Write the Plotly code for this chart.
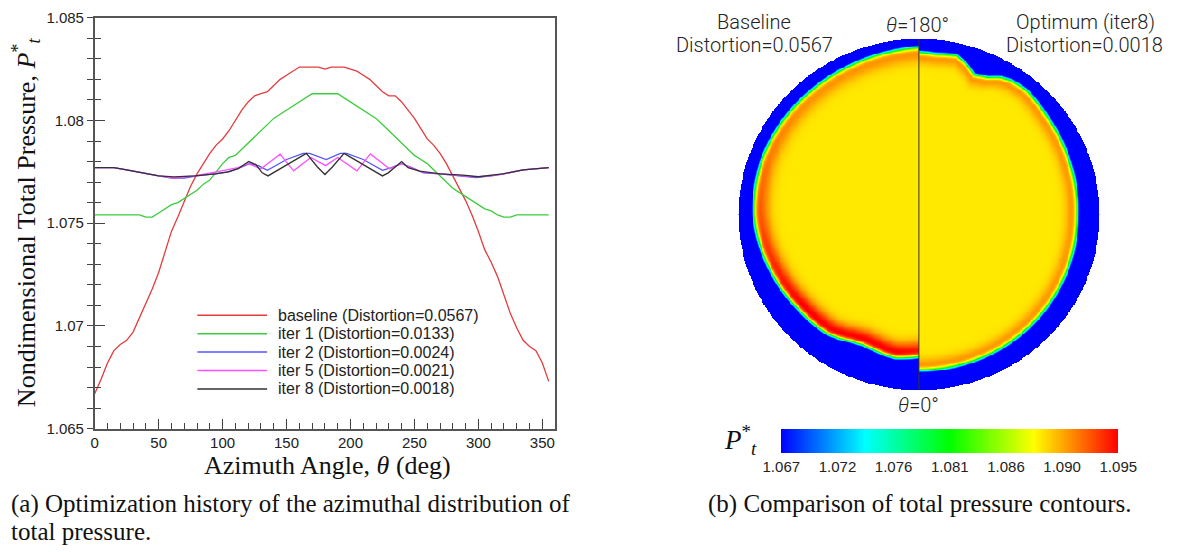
import numpy as np
import plotly.graph_objects as go

W, H = 1183, 552

# ---------------- azimuthal distribution data ----------------
theta = list(range(0, 360, 5))
baseline = [1.0667, 1.0674, 1.0682, 1.0688, 1.0691, 1.0693, 1.0697, 1.0704, 1.0711, 1.0718,
            1.0726, 1.0736, 1.0746, 1.0753, 1.0761, 1.0768, 1.0774, 1.0779, 1.0784, 1.0788,
            1.0791, 1.0795, 1.0800, 1.0805, 1.0809, 1.0812, 1.0813, 1.0814, 1.0817, 1.0820,
            1.0822, 1.0824, 1.0826, 1.0826, 1.0826, 1.0826, 1.0825, 1.0826, 1.0826, 1.0826,
            1.0825, 1.0824, 1.0822, 1.0820, 1.0817, 1.0814, 1.0812, 1.0812, 1.0809, 1.0805,
            1.0801, 1.0796, 1.0791, 1.0788, 1.0784, 1.0779, 1.0773, 1.0767, 1.0761, 1.0754,
            1.0746, 1.0737, 1.0731, 1.0724, 1.0715, 1.0706, 1.0699, 1.0693, 1.0690, 1.0688,
            1.0682, 1.0673]
iter1 = [1.0754, 1.0754, 1.0754, 1.0754, 1.0754, 1.0754, 1.0754, 1.0754, 1.0753, 1.0753,
         1.0755, 1.0757, 1.0759, 1.0760, 1.0762, 1.0764, 1.0766, 1.0769, 1.0771, 1.0775,
         1.0779, 1.0782, 1.0783, 1.0786, 1.0789, 1.0792, 1.0795, 1.0798, 1.0801, 1.0803,
         1.0805, 1.0807, 1.0809, 1.0811, 1.0813, 1.0813, 1.0813, 1.0813, 1.0813, 1.0811,
         1.0809, 1.0807, 1.0805, 1.0803, 1.0801, 1.0798, 1.0795, 1.0792, 1.0789, 1.0786,
         1.0783, 1.0781, 1.0779, 1.0776, 1.0773, 1.0770, 1.0767, 1.0765, 1.0763, 1.0761,
         1.0759, 1.0757, 1.0756, 1.0754, 1.0753, 1.0753, 1.0754, 1.0754, 1.0754, 1.0754,
         1.0754, 1.0754]
theta_iter2 = [0, 15, 25, 40, 50, 60, 70, 80, 95, 105, 112, 121, 128, 135, 150, 163, 168, 181,
               192, 197, 210, 225, 232, 240, 248, 257, 270, 285, 298, 310, 320, 335, 355]
iter2 = [1.0777, 1.0777, 1.0776, 1.0774, 1.0773, 1.0772, 1.0772, 1.0773, 1.0774, 1.0775,
         1.07765, 1.0779, 1.0778, 1.07757, 1.0781, 1.0784, 1.0784, 1.0781, 1.0784, 1.0784,
         1.0781, 1.07757, 1.0777, 1.0779, 1.0777, 1.07745, 1.0774, 1.0773, 1.07722, 1.0773,
         1.0774, 1.0776, 1.0777]
theta_iter5 = [0, 15, 25, 40, 50, 62, 78, 95, 105, 112, 120, 130, 145, 155.5, 169, 180.5, 190,
               205, 215.5, 230.5, 240, 248, 256, 270, 285, 298, 310, 320, 335, 355]
iter5 = [1.0777, 1.0777, 1.0776, 1.0774, 1.0773, 1.0772, 1.0773, 1.0775, 1.0776, 1.0777,
         1.0779, 1.07765, 1.07836, 1.07755, 1.0782, 1.0778, 1.0782, 1.07755, 1.07837, 1.07765,
         1.0779, 1.0777, 1.07748, 1.0774, 1.07732, 1.07725, 1.0773, 1.0774, 1.0776, 1.0777]
theta_iter8 = [0, 15, 25, 40, 50, 62, 78, 95, 104, 112, 120.5, 126, 131, 135.5, 165.5, 174, 180,
               186, 195, 225, 229.5, 240, 245, 254, 270, 288, 300, 319, 335, 355]
iter8 = [1.0777, 1.0777, 1.0776, 1.0774, 1.0773, 1.07725, 1.0773, 1.0774, 1.0775, 1.07765,
         1.0780, 1.07785, 1.07745, 1.0773, 1.0784, 1.07775, 1.07737, 1.07775, 1.0784, 1.0773,
         1.07745, 1.0780, 1.0777, 1.07753, 1.0774, 1.07734, 1.07726, 1.0774, 1.0776, 1.0777]

series_names = ["baseline (Distortion=0.0567)", "iter 1 (Distortion=0.0133)",
                "iter 2 (Distortion=0.0024)", "iter 5 (Distortion=0.0021)",
                "iter 8 (Distortion=0.0018)"]
x_ticks = [0, 50, 100, 150, 200, 250, 300, 350]
y_ticks = [1.065, 1.07, 1.075, 1.08, 1.085]
y_tick_text = ["1.065", "1.07", "1.075", "1.08", "1.085"]

# ---------------- contour (disk) data ----------------
# blue (wall) layer thickness in px, vs angle from bottom (0) to top (180) of each half
phi_base = [0, 9, 13, 18, 23, 28, 32, 37, 45, 52, 60, 68, 75, 82, 90, 100, 110, 125, 140, 155,
            170, 180]
thick_base = [34, 31, 32, 34, 35, 33, 30, 27, 26, 25, 23, 21, 19, 17, 15, 14, 13, 13, 13, 12,
              10, 8]
peak_base = [1.0948, 1.0955, 1.0955, 1.0955, 1.0955, 1.0955, 1.0955, 1.0955, 1.0955, 1.0955,
             1.095, 1.0945, 1.094, 1.0935, 1.093, 1.0925, 1.092, 1.0915, 1.0912, 1.0912,
             1.0912, 1.0912]
phi_opt = [0, 30, 60, 90, 110, 128, 140, 146, 150, 154, 159, 163, 167, 174, 180]
thick_opt = [20, 20, 21, 22, 20, 17, 13, 14, 17, 23, 26, 18, 12, 14, 13]
peak_opt = [1.0915, 1.0915, 1.0915, 1.0915, 1.0915, 1.0915, 1.0915, 1.0915, 1.0915, 1.0915,
            1.0915, 1.0915, 1.0915, 1.0915, 1.0915]
core_value = 1.0886
wall_value = 1.060
cbar_text = ["1.067", "1.072", "1.076", "1.081", "1.086", "1.090", "1.095"]
z_min, z_max = 1.067, 1.095


def px(x):
    return x / W


def py(y):
    return 1 - y / H


SERIF = "Liberation Serif"
SANS = "Liberation Sans"
LIGHT = dict(family="Roboto", size=20, color="#222", weight=300)

fig = go.Figure()

line_colors = ["rgb(228,60,60)", "rgb(60,205,60)", "rgb(85,85,255)", "rgb(255,80,255)", "rgb(50,50,50)"]
xs_all = [theta, theta, theta_iter2, theta_iter5, theta_iter8]
ys_all = [baseline, iter1, iter2, iter5, iter8]
for name, xs, ys, col in zip(series_names, xs_all, ys_all, line_colors):
    fig.add_trace(go.Scatter(x=xs, y=ys, mode="lines", name=name,
                             line=dict(color=col, width=1.3), showlegend=False,
                             xaxis="x", yaxis="y", hoverinfo="skip"))

# ---------------- disk field ----------------
R_PX = 181.0
n = 401
g = np.linspace(-1, 1, n)
X, Y = np.meshgrid(g, g)
r = np.hypot(X, Y)
phi = np.degrees(np.arctan2(np.abs(X), -Y))
depth = (1 - r) * R_PX
left = X < 0
thick = np.where(left, np.interp(phi, phi_base, thick_base), np.interp(phi, phi_opt, thick_opt))
peak = np.where(left, np.interp(phi, phi_base, peak_base), np.interp(phi, phi_opt, peak_opt))
band_w = np.where(left, 11.0, 9.0)
plateau = np.where(left, 5.0, 3.0)
t = depth - thick
sig = 1.0 / (1.0 + np.exp(-np.clip(t, -60, 60) / 1.4))
g_band = np.where(t < plateau, 1.0, np.exp(-((t - plateau) / band_w) ** 2))
inner = core_value + (peak - core_value) * g_band
Z = wall_value + (inner - wall_value) * sig
Z = np.where(r <= 1.0, Z, np.nan)
Z_list = [[None if np.isnan(v) else round(float(v), 5) for v in row] for row in Z]

colorscale = [[0.0, "rgb(0,0,255)"], [0.25, "rgb(0,255,255)"], [0.5, "rgb(0,255,0)"],
              [0.75, "rgb(255,255,0)"], [1.0, "rgb(255,0,0)"]]

fig.add_trace(go.Heatmap(
    x=g, y=g, z=Z_list, colorscale=colorscale, zmin=z_min, zmax=z_max,
    xaxis="x2", yaxis="y2", hoverinfo="skip",
    colorbar=dict(orientation="h", x=px(949), xanchor="center", y=py(433), yanchor="top",
                  len=338 / W, lenmode="fraction", xpad=0, ypad=0,
                  thickness=24, thicknessmode="pixels",
                  outlinewidth=0, tickvals=list(np.linspace(z_min, z_max, 7)), ticktext=cbar_text,
                  ticks="", tickfont=dict(family=SANS, size=15, color="#222")),
))

fig.update_layout(
    width=W, height=H, margin=dict(l=0, r=0, t=0, b=0),
    paper_bgcolor="white", plot_bgcolor="white",
    xaxis=dict(domain=[px(91), px(553)], range=[0, 360], tickvals=x_ticks,
               ticks="inside", ticklen=10, tickwidth=1, tickcolor="#444",
               minor=dict(dtick=10, tick0=0, ticks="inside", ticklen=6, tickcolor="#444"),
               showline=True, mirror=True, linecolor="#555", linewidth=1.5,
               showgrid=False, zeroline=False, anchor="y",
               tickfont=dict(family=SANS, size=15, color="#222")),
    yaxis=dict(domain=[py(433), py(9)], range=[1.065, 1.085], tickvals=y_ticks,
               ticktext=y_tick_text, ticks="outside", ticklen=6, tickwidth=1, tickcolor="#444",
               minor=dict(dtick=0.001, tick0=1.065, ticks="outside", ticklen=6, tickcolor="#444"),
               showline=True, mirror=True, linecolor="#555", linewidth=1.5,
               showgrid=False, zeroline=False, anchor="x",
               tickfont=dict(family=SANS, size=15, color="#222")),
    yaxis3=dict(domain=[py(433), py(9)], range=[1.065, 1.085], tickvals=y_ticks,
                overlaying="y", anchor="x", side="left", showticklabels=False,
                ticks="inside", ticklen=10, tickwidth=1, tickcolor="#444",
                minor=dict(dtick=0.001, tick0=1.065, ticks="inside", ticklen=6, tickcolor="#444"),
                showline=False, showgrid=False, zeroline=False),
    xaxis2=dict(domain=[px(737), px(1099)], range=[-1, 1], visible=False, anchor="y2"),
    yaxis2=dict(domain=[py(393), py(31)], range=[-1, 1], visible=False, anchor="x2"),
)
fig.add_trace(go.Scatter(x=[0, 360], y=[1.065, 1.085], mode="lines", line=dict(width=0),
                         xaxis="x", yaxis="y3", showlegend=False, hoverinfo="skip", opacity=0))

shapes = [dict(type="line", xref="x2", yref="y2", x0=0, x1=0, y0=-1, y1=1,
               line=dict(color="#333", width=1))]
leg_y = [316, 335, 354, 373, 392]
for yy, col in zip(leg_y, line_colors):
    shapes.append(dict(type="line", xref="paper", yref="paper", x0=px(194), x1=px(264),
                       y0=py(yy), y1=py(yy), line=dict(color=col, width=1.5)))
fig.update_layout(shapes=shapes)

ann = []
for yy, name in zip(leg_y, series_names):
    ann.append(dict(x=px(273), y=py(yy), text=name, xanchor="left",
                    font=dict(family=SANS, size=16, color="#222")))

ann += [
    dict(x=px(325), y=py(471), text="Azimuth Angle, <i>θ</i> (deg)", font=dict(family=SERIF, size=26, color="#111")),
    dict(x=px(22), y=py(220), text="Nondimensional Total Pressure, <i>P</i><sup>*</sup><sub><i>t</i></sub>",
         textangle=-90, font=dict(family=SERIF, size=26, color="#111")),
    dict(x=px(5), y=py(511), xanchor="left", text="(a) Optimization history of the azimuthal distribution of",
         font=dict(family=SERIF, size=25, color="#111")),
    dict(x=px(5), y=py(539), xanchor="left", text="total pressure.", font=dict(family=SERIF, size=25, color="#111")),
    dict(x=px(919), y=py(511), text="(b) Comparison of total pressure contours.",
         font=dict(family=SERIF, size=25, color="#111")),
    dict(x=px(753), y=py(13), text="Baseline", font=LIGHT),
    dict(x=px(753), y=py(37), text="Distortion=0.0567", font=LIGHT),
    dict(x=px(1085), y=py(13), text="Optimum (iter8)", font=LIGHT),
    dict(x=px(1084), y=py(37), text="Distortion=0.0018", font=LIGHT),
    dict(x=px(917), y=py(17), text="<i>θ</i>=180°", font=LIGHT),
    dict(x=px(918), y=py(409), text="<i>θ</i>=0°", font=LIGHT),
    dict(x=px(739), y=py(445), text="<i>P</i><sup>*</sup><sub><i>t</i></sub>", font=dict(family=SERIF, size=27, color="#111")),
]
for a in ann:
    a.setdefault("xref", "paper")
    a.setdefault("yref", "paper")
    a.setdefault("showarrow", False)
    a.setdefault("xanchor", "center")
    a.setdefault("yanchor", "middle")
fig.update_layout(annotations=ann)

fig.write_html("out.html", config={"displayModeBar": False},
               post_script="document.body.style.margin='0';")
